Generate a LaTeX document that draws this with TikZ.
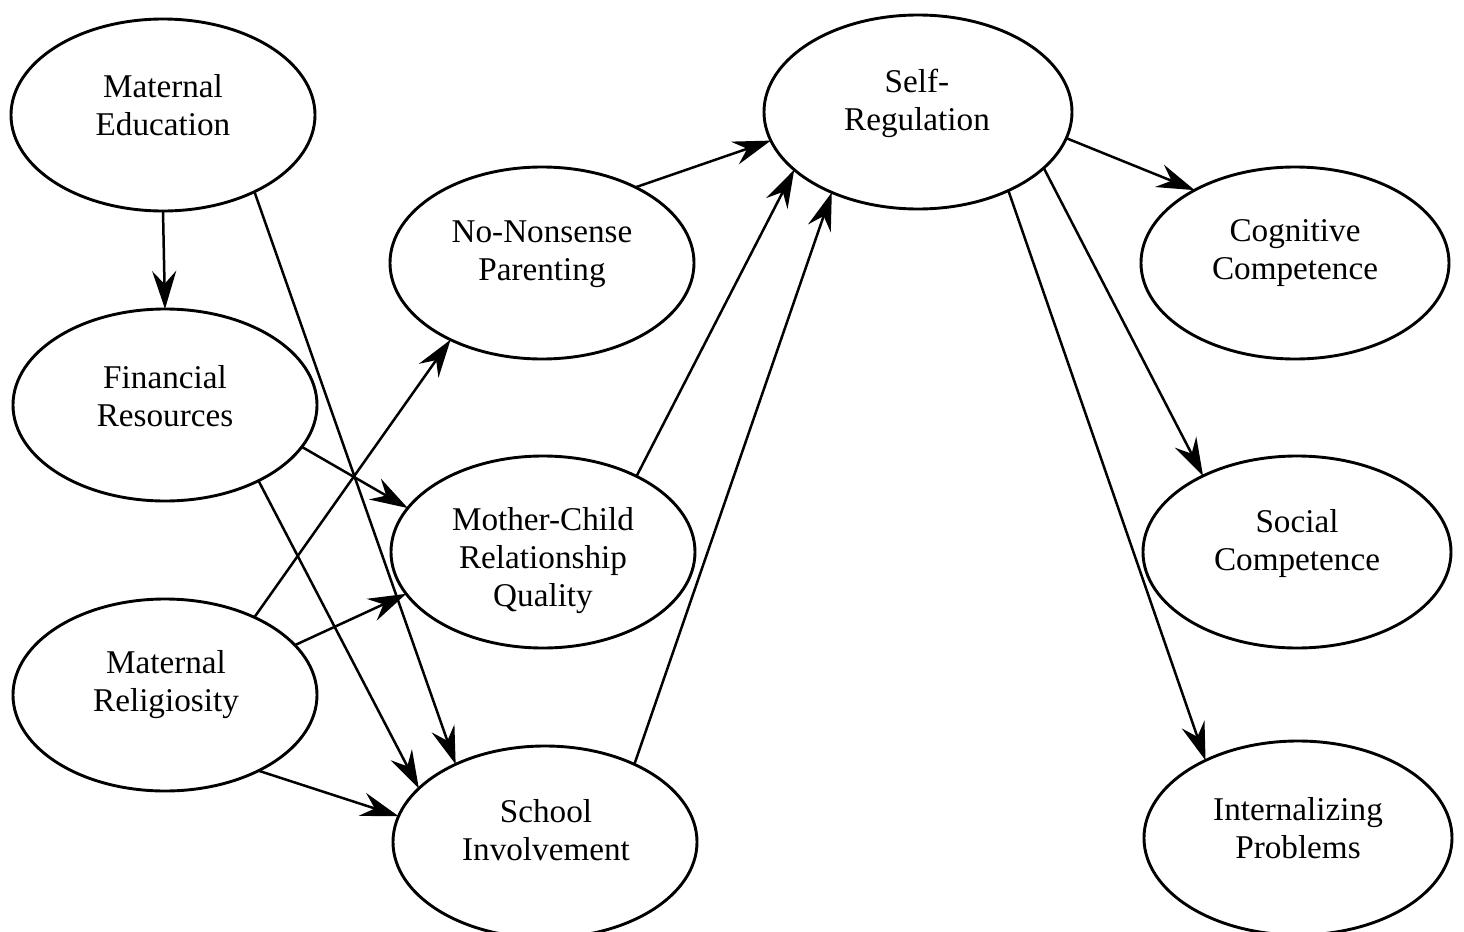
\documentclass[tikz,border=0pt]{standalone}
\usepackage{fontspec}
\setmainfont{Liberation Serif}
\usetikzlibrary{shapes.geometric,arrows.meta}
\begin{document}
\begin{tikzpicture}[x=0.5pt,y=-0.5pt,
  ell/.style={draw,line width=1.45pt,ellipse,inner sep=0pt,outer sep=0pt,minimum width=152pt,minimum height=96pt},
  lbl/.style={align=center,inner sep=0pt,font=\fontsize{16.6}{19}\selectfont},
  arr/.style={line width=1.25pt,-{Stealth[length=19pt,width=12pt,inset=6.5pt]}}]
\useasboundingbox (0,0) rectangle (1464,932);
% ellipses
\node[ell] (me) at (163,115) {};
\node[ell] (fr) at (165,405) {};
\node[ell] (mr) at (165,695) {};
\node[ell] (nn) at (542,263) {};
\node[ell] (mc) at (543,552) {};
\node[ell] (si) at (545,842) {};
\node[ell,minimum width=154pt,minimum height=97pt] (sr) at (918,112) {};
\node[ell,minimum width=154pt] (cc) at (1295,263) {};
\node[ell,minimum width=154pt] (sc) at (1297,552) {};
\node[ell,minimum width=154pt,minimum height=97pt] (ip) at (1298,838) {};
% labels
\node[lbl] (me-t) at (163,105) {Maternal\\Education};
\node[lbl] (fr-t) at (165,396) {Financial\\Resources};
\node[lbl] (mr-t) at (166,685) {Maternal\\Religiosity};
\node[lbl] (nn-t) at (542,254) {No-Nonsense\\Parenting};
\node[lbl] (mc-t) at (543,561) {Mother-Child\\Relationship\\Quality};
\node[lbl] (si-t) at (546,830) {School\\Involvement};
\node[lbl] (sr-t) at (917,103) {Self-\\Regulation};
\node[lbl] (cc-t) at (1295,253) {Cognitive\\Competence};
\node[lbl] (sc-t) at (1297,544) {Social\\Competence};
\node[lbl] (ip-t) at (1298,828) {Internalizing\\Problems};
% connectors
\draw[arr] (me.south) -- (fr.north);
\draw[arr] (me.-40.3) -- (si.139.7);
\draw[arr] (fr.-17.4) -- (mc.162.2);
\draw[arr] (fr.-39.9) -- (si.157.1);
\draw[arr] (mr.41.7) -- (nn.-140);
\draw[arr] (mr.21.4) -- (mc.-163.9);
\draw[arr] (mr.-39.3) -- (si.170.4);
\draw[arr] (nn.39.7) -- (sr.-169.8);
\draw[arr] (mc.39.3) -- (sr.-155.9);
\draw[arr] (si.41.1) -- (sr.-137);
\draw[arr] (sr.-10.3) -- (cc.144.1);
\draw[arr] (sr.-24.6) -- (sc.141.6);
\draw[arr] (sr.-41.7) -- (ip.140.2);
\end{tikzpicture}
\end{document}
